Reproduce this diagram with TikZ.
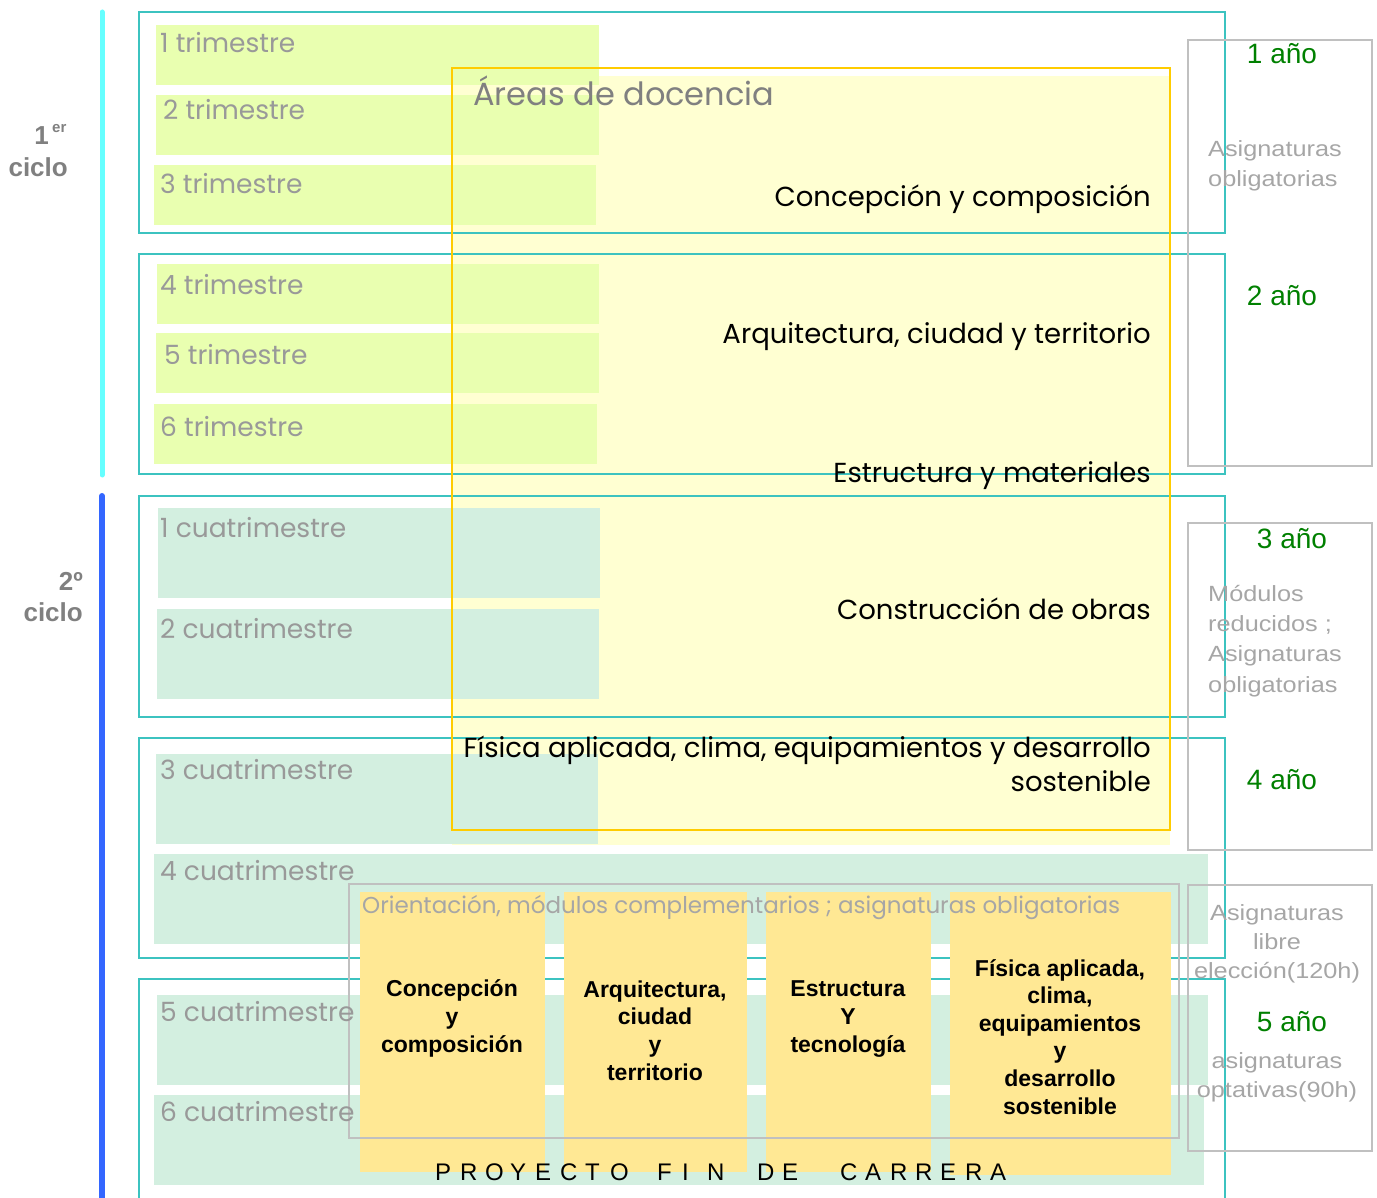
\documentclass[tikz,border=0pt]{standalone}
\usepackage{fontspec}
\newfontfamily\geo{Poppins}
\newfontfamily\ari{Liberation Sans}
\newfontfamily\ariwide[FakeStretch=1.15]{Liberation Sans}
\definecolor{cycA}{HTML}{66FFFF}
\definecolor{cycB}{HTML}{3366FF}
\definecolor{teal}{HTML}{3CC3C0}
\definecolor{lime}{HTML}{E9FFB0}
\definecolor{mint}{HTML}{D3EFE0}
\definecolor{paleY}{HTML}{FFFFD2}
\definecolor{gold}{HTML}{FFCC00}
\definecolor{colY}{HTML}{FFE894}
\definecolor{boxG}{HTML}{C0C0C0}
\definecolor{txtG}{HTML}{999999}
\definecolor{areaG}{HTML}{808080}
\definecolor{asigG}{HTML}{A6A6A6}
\definecolor{anioG}{HTML}{008000}
\tikzset{
  tealbox/.style={draw=teal, line width=2pt},
  graybox/.style={draw=boxG, line width=2pt},
  tri/.style={font={\geo\fontsize{26.5}{30}\selectfont}, text=txtG, anchor=base west, inner sep=0pt},
  area/.style={font={\geo\fontsize{27.5}{34}\selectfont}, text=black, anchor=base east, inner sep=0pt},
  anio/.style={font={\ari\fontsize{28}{32}\selectfont}, text=anioG, anchor=base, inner sep=0pt},
  asig/.style={font={\ariwide\fontsize{22}{30.3}\selectfont}, text=asigG, inner sep=0pt},
  asigc/.style={font={\ariwide\fontsize{22}{29}\selectfont}, text=asigG, inner sep=0pt, anchor=base, align=center},
  colt/.style={font={\ari\bfseries\fontsize{23}{27.6}\selectfont}, text=black, align=center, anchor=base, inner sep=0pt},
  ciclo/.style={font={\ari\bfseries\fontsize{26}{31}\selectfont}, text=areaG, anchor=base east, inner sep=0pt},
  pfc/.style={font={\ari\fontsize{24}{28}\selectfont}, text=black, anchor=base west, inner sep=0pt}
}
\begin{document}
\begin{tikzpicture}[x=1pt,y=-1pt]
\useasboundingbox (0,0) rectangle (1377,1198);
% cycle bars
\draw[cycA, line width=5pt, line cap=round] (102,12) -- (102,475);
\draw[cycB, line width=6pt, line cap=round] (102,496) -- (102,1210);
% yellow area fill
\fill[paleY] (452,76) rectangle (1170,845);
% trimestre rects
\fill[lime] (156,25) rectangle (599,85);
\fill[lime] (156,95) rectangle (599,155);
\fill[lime] (154,165) rectangle (596,225);
\fill[lime] (157,264) rectangle (599,324);
\fill[lime] (156,333) rectangle (599,393);
\fill[lime] (154,404) rectangle (597,464);
% cuatrimestre rects
\fill[mint] (158,508) rectangle (600,598);
\fill[mint] (157,609) rectangle (599,699);
\fill[mint] (156,754) rectangle (598,844);
\fill[mint] (154,854) rectangle (1208,944);
\fill[mint] (157,995) rectangle (1208,1085);
\fill[mint] (154,1095) rectangle (1204,1185);
% teal boxes
\draw[tealbox] (139,12) rectangle (1225,233);
\draw[tealbox] (139,254) rectangle (1225,474);
\draw[tealbox] (139,496) rectangle (1225,717);
\draw[tealbox] (139,738) rectangle (1225,958);
\draw[tealbox] (139,979) rectangle (1225,1215);
% right gray boxes
\draw[graybox] (1188,40) rectangle (1372,466);
\draw[graybox] (1188,523) rectangle (1372,850);
\draw[graybox] (1188,885) rectangle (1372,1151);
% gold border
\draw[gold, line width=2pt] (452,68) rectangle (1170,830);
% columns
\fill[colY] (360,892) rectangle (545,1172);
\fill[colY] (564,892) rectangle (747,1172);
\fill[colY] (766,892) rectangle (931,1172);
\fill[colY] (950,892) rectangle (1171,1175);
% orientation box
\draw[graybox] (349,884) rectangle (1179,1138);

% cycle labels
\node[ciclo] (c1a) at (49,145) {1};
\node[font={\ari\bfseries\fontsize{15}{18}\selectfont}, text=areaG, anchor=base west, inner sep=0pt] (c1b) at (52,133) {er};
\node[ciclo] (c1c) at (68,177) {ciclo};
\node[ciclo] (c2a) at (83,590) {2º};
\node[ciclo] (c2c) at (83,621) {ciclo};

% trimestres
\node[tri] (t1) at (160,53) {1 trimestre};
\node[tri] (t2) at (163,120) {2 trimestre};
\node[tri] (t3) at (160,194) {3 trimestre};
\node[tri] (t4) at (160,295) {4 trimestre};
\node[tri] (t5) at (164,365) {5 trimestre};
\node[tri] (t6) at (160,436) {6 trimestre};
% cuatrimestres
\node[tri] (q1) at (160,537) {1 cuatrimestre};
\node[tri] (q2) at (160,638) {2 cuatrimestre};
\node[tri] (q3) at (160,779) {3 cuatrimestre};
\node[tri] (q4) at (160,880) {4 cuatrimestre};
\node[tri] (q5) at (160,1021) {5 cuatrimestre};
\node[tri] (q6) at (160,1121) {6 cuatrimestre};

% areas
\node[font={\geo\fontsize{32}{38}\selectfont}, text=areaG, anchor=base west, inner sep=0pt] (areas) at (473,106) {Áreas de docencia};
\node[area] (a1) at (1151,207) {Concepción y composición};
\node[area] (a2) at (1151,344) {Arquitectura, ciudad y territorio};
\node[area] (a3) at (1151,482) {Estructura y materiales};
\node[area] (a4) at (1151,619) {Construcción de obras};
\node[area] (a5) at (1151,757) {Física aplicada, clima, equipamientos y desarrollo};
\node[area] (a6) at (1151,791) {sostenible};

% right column
\node[anio] (y1) at (1282,64) {1 año};
\node[anio] (y2) at (1282,306) {2 año};
\node[anio] (y3) at (1292,548) {3 año};
\node[anio] (y4) at (1282,789) {4 año};
\node[anio] (y5) at (1292,1031) {5 año};
\node[asig, anchor=base west, align=left] (r1) at (1208,187) {Asignaturas\\obligatorias};
\node[asig, anchor=base west, align=left] (r2) at (1208,692) {Módulos\\reducidos ;\\Asignaturas\\obligatorias};
\node[asigc] (r3) at (1277,978) {Asignaturas\\libre\\elección(120h)};
\node[asigc] (r4) at (1277,1097) {asignaturas\\optativas(90h)};

% orientation
\node[font={\geo\fontsize{23}{28}\selectfont}, text=asigG, anchor=base west, inner sep=0pt] (ori) at (362,913) {Orientación, módulos complementarios ; asignaturas obligatorias};
\node[colt] (k1) at (452,1052) {Concepción\\y\\composición};
\node[colt] (k2) at (655,1080) {Arquitectura,\\ciudad\\y\\territorio};
\node[colt] (k3) at (848,1052) {Estructura\\Y\\tecnología};
\node[colt] (k4) at (1060,1114) {Física aplicada,\\clima,\\equipamientos\\y\\desarrollo\\sostenible};

% proyecto fin de carrera
\foreach \ch [count=\i] in {P,R,O,Y,E,C,T,O}
  \node[pfc] (pa\i) at ({435+25*(\i-1)},1180) {\ch};
\foreach \ch [count=\i] in {F,I,N}
  \node[pfc] (pb\i) at ({657+25*(\i-1)},1180) {\ch};
\foreach \ch [count=\i] in {D,E}
  \node[pfc] (pc\i) at ({757+25*(\i-1)},1180) {\ch};
\foreach \ch [count=\i] in {C,A,R,R,E,R,A}
  \node[pfc] (pd\i) at ({840+25*(\i-1)},1180) {\ch};
\end{tikzpicture}
\end{document}
